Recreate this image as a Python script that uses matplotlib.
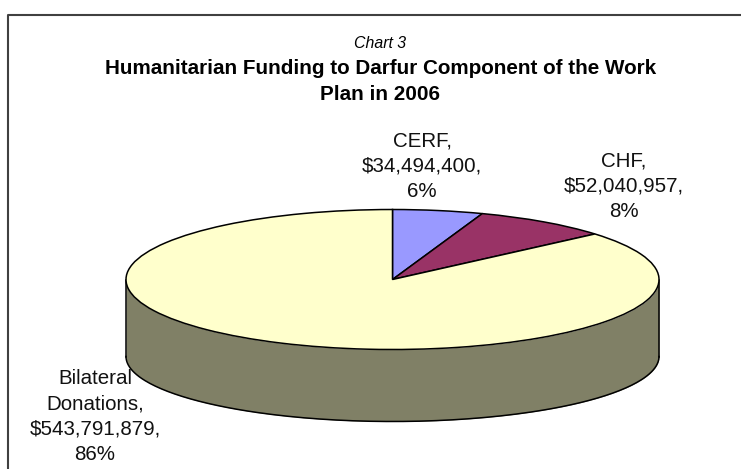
import numpy as np
import matplotlib
matplotlib.use('Agg')
import matplotlib.pyplot as plt

plt.rcParams['font.family'] = ['Liberation Sans', 'DejaVu Sans']

W, H = 741, 469

categories = ['CERF', 'CHF', 'Bilateral\nDonations']
funding = [34494400, 52040957, 543791879]
percents = [6, 8, 86]
colors = ['#9999ff', '#993366', '#ffffcc']
side_color = '#808066'

# pie centre and radii in pixels, the y radius is squashed for the tilt
cx, cy = 392.5, 279.5
rx, ry = 266.5, 70.0
# the base rim sits lower and is a bit flatter than the top rim
base_drop = 77.0
base_ry = 65.0

fig = plt.figure(figsize=(W / 100, H / 100), dpi=100, facecolor='white')

# background axes in pixel coordinates for frame and text
bg = fig.add_axes([0, 0, 1, 1])
bg.set_xlim(0, W)
bg.set_ylim(H, 0)
bg.axis('off')
bg.plot([741, 8, 8], [15, 15, 469], color='#404040', lw=1.5, solid_capstyle='butt')

bg.text(380, 43.5, 'Chart 3', ha='center', va='center', style='italic', fontsize=11.4, color='black')
bg.text(380.5, 68.5, 'Humanitarian Funding to Darfur Component of the Work', ha='center', va='center',
        weight='bold', fontsize=14.83, color='black')
bg.text(380.5, 94, 'Plan in 2006', ha='center', va='center', weight='bold', fontsize=14.83, color='black')

label_pos = [(422, 166.5), (624, 186.5), (95, 416.5)]
for name, value, pct, pos in zip(categories, funding, percents, label_pos):
    txt = '%s,\n$%s,\n%d%%' % (name, format(value, ','), pct)
    bg.text(pos[0], pos[1], txt, ha='center', va='center', fontsize=14.8, color='#111111', linespacing=1.43)

# axes spanning the whole figure, data units are pie radii
ax = fig.add_axes([0, 0, 1, 1])
ax.patch.set_alpha(0)
ax.pie(funding, colors=colors, startangle=90, counterclock=False, radius=1,
       wedgeprops=dict(edgecolor='black', linewidth=1.1))
ax.set_aspect('auto')
ax.set_xlim(-cx / rx, (W - cx) / rx)
ax.set_ylim(-(H - cy) / ry, cy / ry)

# cylinder wall under the front half of the rim
t = np.linspace(np.pi, 2 * np.pi, 200)
x = np.cos(t)
top_rim = np.sin(t)
base_rim = base_ry / ry * np.sin(t) - base_drop / ry
ax.fill_between(x, top_rim, base_rim, color=side_color, zorder=0.5, lw=0)
ax.plot(x, base_rim, color='black', lw=1.1, zorder=0.6)
ax.plot([-1, -1], [0, base_rim[0]], color='black', lw=1.1, zorder=0.6)
ax.plot([1, 1], [0, base_rim[-1]], color='black', lw=1.1, zorder=0.6)

fig.savefig('out.png', dpi=100)
